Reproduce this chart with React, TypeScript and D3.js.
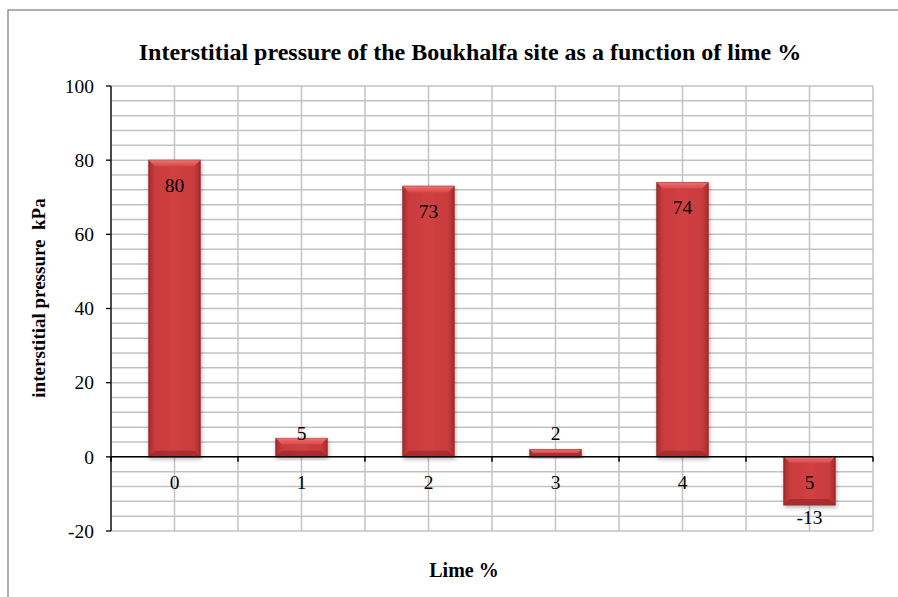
import React from "react";
import * as d3 from "d3";

const categories = ["0", "1", "2", "3", "4", "5"];
const values = [80, 5, 73, 2, 74, -13];
const yTicks = [-20, 0, 20, 40, 60, 80, 100];

const W = 898;
const H = 597;
const M = { left: 111, right: 25, top: 86, bottom: 66 };
const FONT = "'Liberation Serif', 'Times New Roman', Times, serif";

export default function App() {
  const x = d3.scaleBand<string>().domain(categories).range([M.left, W - M.right]).paddingInner(0).paddingOuter(0);
  const y = d3.scaleLinear().domain([-20, 100]).range([H - M.bottom, M.top]);
  const bw = x.bandwidth() * 0.405;
  const minor = d3.range(-20, 100.01, 4);
  const vLines: number[] = [];
  categories.forEach((c) => {
    vLines.push(x(c)!);
    vLines.push(x(c)! + x.bandwidth() / 2);
  });
  vLines.push(W - M.right);
  const ts = { fontFamily: FONT };
  return (
    <svg width={W} height={H} style={{ position: "absolute", left: 0, top: 0 }}>
      <defs>
        <linearGradient id="barg" x1="0" x2="1" y1="0" y2="0">
          <stop offset="0" stopColor="#a82b2d" />
          <stop offset="0.12" stopColor="#c93b3d" />
          <stop offset="0.5" stopColor="#d04042" />
          <stop offset="0.88" stopColor="#c93b3d" />
          <stop offset="1" stopColor="#a82b2d" />
        </linearGradient>
        <linearGradient id="topg" x1="0" x2="0" y1="0" y2="1">
          <stop offset="0" stopColor="#f07070" />
          <stop offset="1" stopColor="#d84a4c" />
        </linearGradient>
        <filter id="sh" x="-20%" y="-20%" width="140%" height="140%">
          <feDropShadow dx="1" dy="2" stdDeviation="2" floodColor="#000" floodOpacity="0.3" />
        </filter>
      </defs>
      <rect x={0} y={0} width={W} height={H} fill="#fff" />
      <rect x={8} y={10} width={W + 20} height={H + 20} fill="none" stroke="#7a7a7a" strokeWidth={1.2} />
      {minor.map((v) => (
        <line key={"h" + v} x1={M.left} x2={W - M.right} y1={y(v)} y2={y(v)} stroke="#c3c3c3" strokeWidth={1.5} />
      ))}
      {vLines.map((vx, i) => (
        <line key={"v" + i} x1={vx} x2={vx} y1={y(100)} y2={y(-20)} stroke="#c3c3c3" strokeWidth={1.5} />
      ))}
      {categories.map((c, i) => {
        const v = values[i];
        const cx = x(c)! + x.bandwidth() / 2;
        const x0 = cx - bw / 2;
        const yTop = y(Math.max(0, v));
        const yBot = y(Math.min(0, v));
        const h = yBot - yTop;
        const b = Math.min(6, h / 2);
        return (
          <g key={c} filter="url(#sh)">
            <rect x={x0} y={yTop} width={bw} height={h} fill="url(#barg)" stroke="#8c2426" strokeWidth={0.8} />
            <polygon
              points={`${x0},${yTop} ${x0 + bw},${yTop} ${x0 + bw - b},${yTop + b} ${x0 + b},${yTop + b}`}
              fill="url(#topg)"
            />
            <polygon
              points={`${x0},${yBot} ${x0 + bw},${yBot} ${x0 + bw - b},${yBot - b} ${x0 + b},${yBot - b}`}
              fill="#9e2a2c"
              opacity={0.8}
            />
          </g>
        );
      })}
      <line x1={M.left} x2={M.left} y1={y(100)} y2={y(-20)} stroke="#000" strokeWidth={1.3} />
      <line x1={M.left} x2={W - M.right} y1={y(0)} y2={y(0)} stroke="#000" strokeWidth={1.5} />
      {yTicks.map((t) => (
        <g key={"yt" + t}>
          <line x1={M.left - 5} x2={M.left} y1={y(t)} y2={y(t)} stroke="#000" strokeWidth={1.3} />
          <text x={94} y={y(t)} dy="0.35em" textAnchor="end" fontSize={19.5} style={ts}>
            {t}
          </text>
        </g>
      ))}
      {vLines.filter((_, i) => i % 2 === 0).map((vx, i) => (
        <line key={"xt" + i} x1={vx} x2={vx} y1={y(0)} y2={y(0) + 5} stroke="#000" strokeWidth={1.5} />
      ))}
      {categories.map((c) => (
        <text key={"xl" + c} x={x(c)! + x.bandwidth() / 2} y={y(0) + 25} dy="0.35em" textAnchor="middle" fontSize={19.5} style={ts}>
          {c}
        </text>
      ))}
      {categories.map((c, i) => {
        const v = values[i];
        const cx = x(c)! + x.bandwidth() / 2;
        let ly: number;
        if (v < 0) ly = y(v) + 12;
        else if (y(0) - y(v) < 40) ly = y(0) - 24;
        else ly = y(v) + 25;
        return (
          <text key={"dl" + c} x={cx} y={ly} dy="0.35em" textAnchor="middle" fontSize={19.5} style={ts}>
            {v}
          </text>
        );
      })}
      <text x={470} y={60} textAnchor="middle" fontSize={24} fontWeight="bold" style={ts}>
        Interstitial pressure of the Boukhalfa site as a function of lime %
      </text>
      <text transform={`translate(45, 298) rotate(-90)`} textAnchor="middle" fontSize={19} fontWeight="bold" style={{ ...ts, whiteSpace: "pre" }}>
        {"interstitial pressure  kPa"}
      </text>
      <text x={464} y={577} textAnchor="middle" fontSize={20} fontWeight="bold" style={ts}>
        Lime %
      </text>
    </svg>
  );
}
